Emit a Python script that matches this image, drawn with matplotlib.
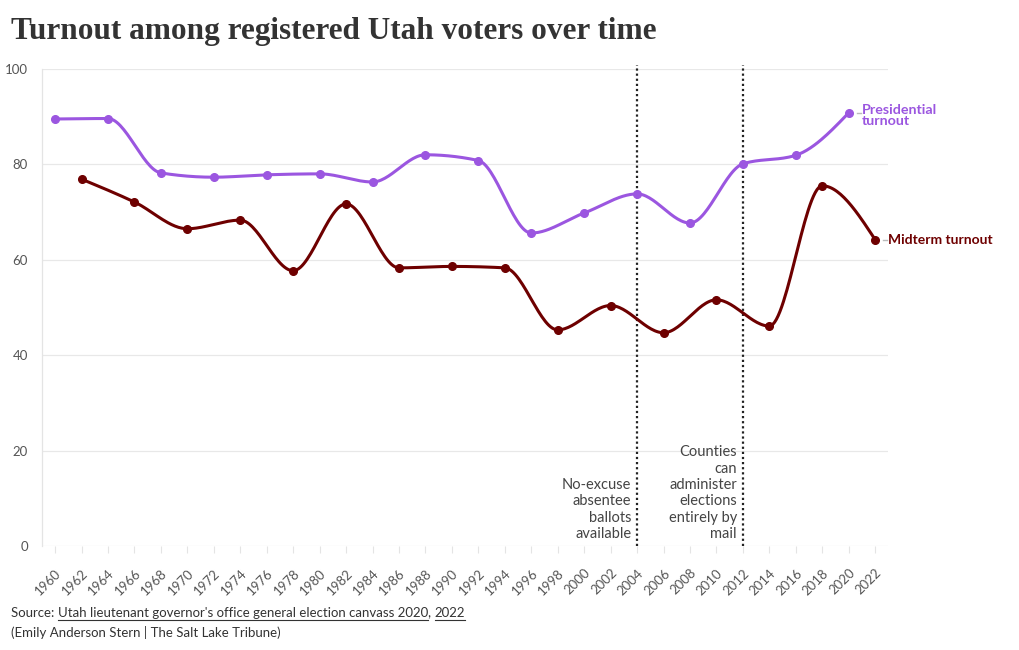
import numpy as np
import matplotlib
matplotlib.use("Agg")
import matplotlib.pyplot as plt

pres_years = [1960, 1964, 1968, 1972, 1976, 1980, 1984, 1988, 1992, 1996, 2000, 2004, 2008, 2012, 2016, 2020]
pres_values = [89.5, 89.6, 78.2, 77.3, 77.8, 78.0, 76.3, 82.0, 80.8, 65.6, 69.8, 73.8, 67.7, 80.1, 81.9, 90.8]
mid_years = [1962, 1966, 1970, 1974, 1978, 1982, 1986, 1990, 1994, 1998, 2002, 2006, 2010, 2014, 2018, 2022]
mid_values = [76.9, 72.1, 66.5, 68.3, 57.7, 71.7, 58.3, 58.6, 58.3, 45.3, 50.4, 44.7, 51.6, 46.1, 75.5, 64.2]
tick_years = list(range(1960, 2023, 2))
y_ticks = [0, 20, 40, 60, 80, 100]
event_years = [2004, 2012]
event_labels = ["No-excuse\nabsentee\nballots\navailable", "Counties\ncan\nadminister\nelections\nentirely by\nmail"]

PURPLE = "#9b56e0"
MAROON = "#6e0000"
FONT = ["Lato", "DejaVu Sans"]
plt.rcParams["font.family"] = FONT


def monotone(x, y, n=30):
    x = np.asarray(x, float)
    y = np.asarray(y, float)
    h = np.diff(x)
    d = np.diff(y) / h
    m = np.zeros_like(y)
    for i in range(1, len(y) - 1):
        if d[i - 1] * d[i] <= 0:
            m[i] = 0
        else:
            p = (d[i - 1] * h[i] + d[i] * h[i - 1]) / (h[i - 1] + h[i])
            m[i] = (np.sign(d[i - 1]) + np.sign(d[i])) * min(abs(d[i - 1]), abs(d[i]), 0.5 * abs(p))
    m[0] = (3 * d[0] - m[1]) / 2
    m[-1] = (3 * d[-1] - m[-2]) / 2
    xs, ys = [], []
    for i in range(len(x) - 1):
        t = np.linspace(0, 1, n, endpoint=(i == len(x) - 2))
        h00 = 2 * t**3 - 3 * t**2 + 1
        h10 = t**3 - 2 * t**2 + t
        h01 = -2 * t**3 + 3 * t**2
        h11 = t**3 - t**2
        xs.append(x[i] + t * h[i])
        ys.append(h00 * y[i] + h10 * h[i] * m[i] + h01 * y[i + 1] + h11 * h[i] * m[i + 1])
    return np.concatenate(xs), np.concatenate(ys)


fig = plt.figure(figsize=(10.2, 6.5), dpi=100)
ax = fig.add_axes([0.041, 0.16, 0.830, 0.734])
ax.set_xlim(1959, 2023)
ax.set_ylim(0, 100)

for yt in y_ticks:
    ax.axhline(yt, color="#e8e8e8", lw=0.9, zorder=0)
for s in ["top", "right", "bottom"]:
    ax.spines[s].set_visible(False)
ax.spines["left"].set_color("#e4e4e4")
ax.spines["left"].set_linewidth(0.9)

ax.set_yticks(y_ticks)
ax.set_yticklabels([str(v) for v in y_ticks], fontsize=9.5, color="#555555")
ax.tick_params(axis="y", length=0, pad=10)
ax.set_xticks(tick_years)
ax.set_xticklabels([str(v) for v in tick_years], rotation=45, fontsize=9.5,
                   color="#555555", ha="right", rotation_mode="anchor")
ax.tick_params(axis="x", length=5, color="#e4e4e4", pad=10)

for yr in event_years:
    ax.plot([yr, yr], [0, 100.9], color="#222222", lw=1.6, ls=(0, (1, 1.3)),
            zorder=2, clip_on=False)
for yr, lab in zip(event_years, event_labels):
    ax.text(yr - 0.45, 1.0, lab, ha="right", va="bottom", fontsize=10.5,
            color="#444444", linespacing=1.22)

px, py = monotone(pres_years, pres_values)
ax.plot(px, py, color=PURPLE, lw=2.2, zorder=3, solid_capstyle="round")
ax.plot(pres_years, pres_values, "o", color=PURPLE, ms=5.5, zorder=4)
mx, my = monotone(mid_years, mid_values)
ax.plot(mx, my, color=MAROON, lw=2.2, zorder=3, solid_capstyle="round")
ax.plot(mid_years, mid_values, "o", color=MAROON, ms=5.5, zorder=4)

# end labels
ax.plot([pres_years[-1] + 0.6, pres_years[-1] + 0.9], [pres_values[-1]] * 2, color="#bbbbbb", lw=1, clip_on=False)
ax.text(pres_years[-1] + 1.0, pres_values[-1] - 0.5, "Presidential\nturnout", ha="left", va="center",
        fontsize=10.3, fontweight="bold", color=PURPLE, linespacing=0.9)
ax.plot([mid_years[-1] + 0.6, mid_years[-1] + 0.9], [mid_values[-1]] * 2, color="#bbbbbb", lw=1, clip_on=False)
ax.text(mid_years[-1] + 1.0, mid_values[-1], "Midterm turnout", ha="left", va="center",
        fontsize=10, fontweight="bold", color=MAROON, clip_on=False)

fig.text(0.011, 0.952, "Turnout among registered Utah voters over time", ha="left", va="center",
         fontsize=22.5, fontweight="bold", color="#333333", family=["Liberation Serif", "DejaVu Serif"])

t1 = fig.text(0.011, 0.057, "Source: ", ha="left", va="center", fontsize=9.5, color="#333333")
fig.canvas.draw()
bb = t1.get_window_extent()
x0 = bb.x1 / fig.bbox.width
t2 = fig.text(x0, 0.057, "Utah lieutenant governor's office general election canvass 2020", ha="left",
              va="center", fontsize=9.5, color="#333333")
fig.canvas.draw()
bb2 = t2.get_window_extent()
x1 = bb2.x1 / fig.bbox.width
t3 = fig.text(x1, 0.057, ", ", ha="left", va="center", fontsize=9.5, color="#333333")
fig.canvas.draw()
bb3 = t3.get_window_extent()
x2 = bb3.x1 / fig.bbox.width
t4 = fig.text(x2, 0.057, "2022", ha="left", va="center", fontsize=9.5, color="#333333")
fig.canvas.draw()
bb4 = t4.get_window_extent()
uy = (bb2.y0 - 1) / fig.bbox.height
fig.add_artist(plt.Line2D([x0, x1], [uy, uy], color="#333333", lw=0.8))
fig.add_artist(plt.Line2D([x2, bb4.x1 / fig.bbox.width], [uy, uy], color="#333333", lw=0.8))
fig.text(0.011, 0.027, "(Emily Anderson Stern | The Salt Lake Tribune)", ha="left", va="center",
         fontsize=9.5, color="#333333")

fig.savefig("out.png", dpi=100)
